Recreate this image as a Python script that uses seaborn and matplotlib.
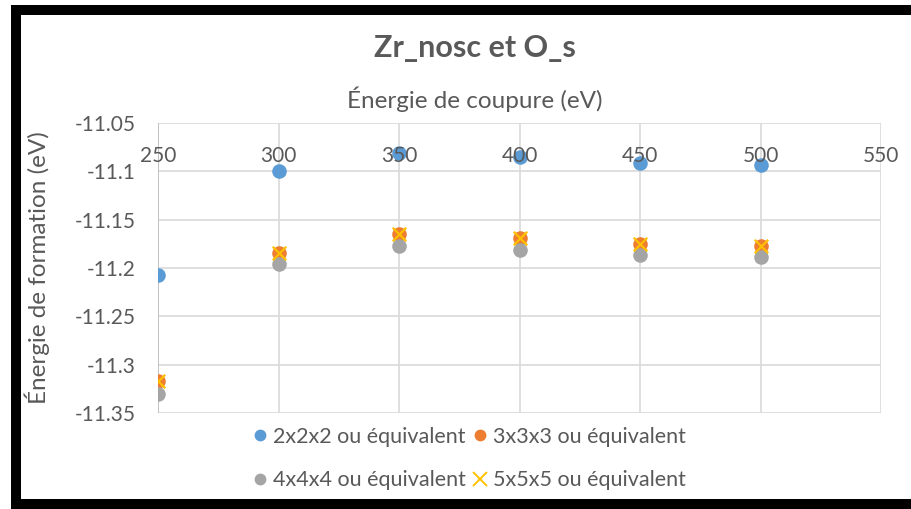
import matplotlib
matplotlib.use("Agg")
import matplotlib.pyplot as plt
from matplotlib.patches import Rectangle
from matplotlib.lines import Line2D
import seaborn as sns
import pandas as pd

# Énergie de coupure (eV)
cutoff = [250, 300, 350, 400, 450, 500]

# Énergie de formation (eV) pour chaque maillage
e_2x2x2 = [-11.207, -11.100, -11.081, -11.085, -11.091, -11.093]
e_3x3x3 = [-11.317, -11.184, -11.165, -11.169, -11.175, -11.177]
e_4x4x4 = [-11.330, -11.196, -11.177, -11.181, -11.187, -11.189]
e_5x5x5 = [-11.317, -11.184, -11.165, -11.169, -11.175, -11.177]

labels = ["2x2x2 ou équivalent", "3x3x3 ou équivalent",
          "4x4x4 ou équivalent", "5x5x5 ou équivalent"]
x_ticks = [250, 300, 350, 400, 450, 500, 550]
y_ticks = [-11.05, -11.1, -11.15, -11.2, -11.25, -11.3, -11.35]
y_tick_labels = ["-11.05", "-11.1", "-11.15", "-11.2", "-11.25", "-11.3", "-11.35"]

sns.set_theme(style="white")
plt.rcParams["font.family"] = ["Lato", "DejaVu Sans"]

TXT = "#595959"
GRID = "#d9d9d9"
colors = ["#5B9BD5", "#ED7D31", "#A5A5A5", "#FFC000"]

fig = plt.figure(figsize=(9.11, 5.09), dpi=100)
ax = fig.add_axes([158 / 911, 1 - 413 / 509, 723 / 911, 290 / 509])

# quadrillage sous les points
for t in x_ticks:
    ax.axvline(t, color=GRID, linewidth=1.2, zorder=0.5)
for t in y_ticks:
    ax.axhline(t, color=GRID, linewidth=1.2, zorder=0.5)
ax.axvline(250, color="#bfbfbf", linewidth=1.3, zorder=0.6)

series = [e_2x2x2, e_3x3x3, e_4x4x4, e_5x5x5]
for vals, lab, col in zip(series, labels, colors):
    df = pd.DataFrame({"x": cutoff, "y": vals})
    if lab.startswith("5x5x5"):
        sns.scatterplot(data=df, x="x", y="y", ax=ax, marker="x", s=95,
                        color=col, linewidth=1.6, zorder=2.2, legend=False)
    else:
        sns.scatterplot(data=df, x="x", y="y", ax=ax, marker="o", s=110,
                        color=col, linewidth=0, zorder=2, legend=False)

ax.set_xlim(250, 550)
ax.set_ylim(-11.35, -11.05)
ax.set_xticks(x_ticks)
ax.set_yticks(y_ticks)
ax.set_yticklabels(y_tick_labels)
ax.grid(False)
for name, sp in ax.spines.items():
    sp.set_visible(False)
# étiquettes des axes au-dessus des points
ax.xaxis.set_zorder(5)
ax.yaxis.set_zorder(5)

ax.xaxis.tick_top()
ax.tick_params(axis="x", length=0, pad=-31, labelsize=15, labelcolor=TXT)
ax.tick_params(axis="y", length=0, pad=16, labelsize=15, labelcolor=TXT)

ax.set_xlabel("Énergie de coupure (eV)", fontsize=17.5, color=TXT)
ax.xaxis.set_label_position("top")
ax.xaxis.set_label_coords((475 - 158) / 723, 1 + 15 / 290)
ax.set_ylabel("Énergie de formation (eV)", fontsize=17.5, color=TXT)
ax.yaxis.set_label_coords((50 - 158) / 723, 0.5)

fig.text(475 / 911, 1 - 48 / 509, "Zr_nosc et O_s", ha="center", va="center",
         fontsize=22, fontweight="bold", color=TXT)

handles = [
    Line2D([], [], linestyle="none", marker="o", markersize=8.5, markeredgewidth=0, color=colors[0]),
    Line2D([], [], linestyle="none", marker="o", markersize=8.5, markeredgewidth=0, color=colors[2]),
    Line2D([], [], linestyle="none", marker="o", markersize=8.5, markeredgewidth=0, color=colors[1]),
    Line2D([], [], linestyle="none", marker="x", markersize=9.5, markeredgewidth=1.4, color=colors[3]),
]
leg_labels = [labels[0], labels[2], labels[1], labels[3]]
fig.legend(handles, leg_labels, ncol=2, loc="center",
           bbox_to_anchor=(469 / 911, 1 - 458.5 / 509), frameon=False,
           fontsize=15.5, labelcolor=TXT, handlelength=0.7, handletextpad=0.25,
           columnspacing=0.3, labelspacing=1.1, borderpad=0)

# cadre noir
for (x0, y0, w, h) in [(11, 4.5, 900, 10.5), (11, 4.5, 10, 504.5), (11, 499, 900, 10)]:
    fig.add_artist(Rectangle((x0 / 911, 1 - (y0 + h) / 509), w / 911, h / 509,
                             transform=fig.transFigure, facecolor="black",
                             edgecolor="none", zorder=10))

fig.savefig("out.png", dpi=100)
